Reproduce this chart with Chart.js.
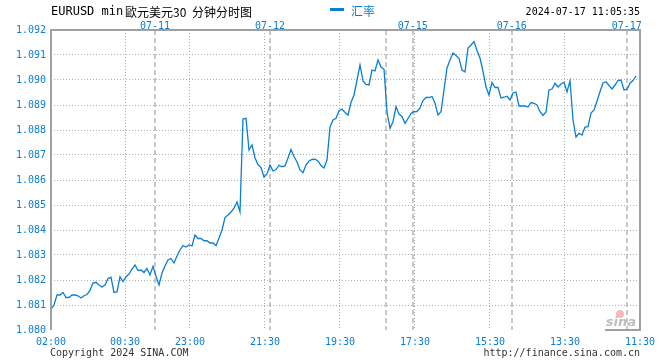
<!DOCTYPE html>
<html>
<head>
<meta charset="utf-8">
<script src="https://cdn.jsdelivr.net/npm/chart.js@4.4.1/dist/chart.umd.min.js"></script>
<style>
html,body{margin:0;padding:0;background:#fff;}
canvas{display:block;}
</style>
</head>
<body>
<canvas id="c" width="660" height="360" style="width:660px;height:360px"></canvas>
<script>
// ---- data (EURUSD 30-min) ----
const values = [
1.08083,1.0810,1.0814,1.0814,1.0815,1.0813,1.0813,1.0814,1.0814,1.08137,
1.08128,1.08137,1.08142,1.08158,1.08188,1.08191,1.0818,1.08172,1.0818,1.08206,
1.08211,1.0815,1.08152,1.08213,1.08194,1.08213,1.08224,1.08244,1.0826,1.08238,
1.0824,1.0823,1.08246,1.0822,1.08255,1.08215,1.0818,1.08228,1.08256,1.0828,
1.08286,1.08268,1.08296,1.0832,1.08338,1.08332,1.0834,1.08336,1.0838,1.08366,
1.08366,1.08357,1.08357,1.08348,1.08348,1.08337,1.08368,1.084,1.0845,1.0846,
1.08472,1.08487,1.08512,1.08473,1.08844,1.08847,1.0872,1.0874,1.08688,1.08662,
1.0865,1.08612,1.08624,1.0866,1.08636,1.08642,1.08659,1.08653,1.08656,1.08688,
1.08722,1.08694,1.08672,1.0864,1.08629,1.0866,1.08676,1.08682,1.08683,1.08676,
1.08658,1.08648,1.0868,1.08812,1.0884,1.08847,1.08876,1.08884,1.0887,1.0886,
1.0891,1.0894,1.0900,1.0906,1.08996,1.08982,1.0898,1.0904,1.09036,1.0908,
1.09052,1.09043,1.08872,1.08807,1.08833,1.08893,1.08864,1.08854,1.08827,1.08846,
1.08866,1.08873,1.08874,1.08888,1.08918,1.0893,1.0893,1.08934,1.08907,1.0886,
1.08873,1.0896,1.09048,1.0908,1.09108,1.09098,1.09087,1.0904,1.09032,1.09128,
1.0914,1.09154,1.09118,1.09088,1.09034,1.08972,1.0894,1.0899,1.0897,1.0897,
1.08928,1.08931,1.08935,1.0892,1.08948,1.08952,1.08896,1.08896,1.08896,1.08892,
1.0891,1.08907,1.089,1.08873,1.08858,1.08872,1.0896,1.08964,1.08987,1.08972,
1.08984,1.08991,1.08952,1.08997,1.0884,1.08772,1.08787,1.0878,1.08812,1.08813,
1.08868,1.0888,1.08916,1.08953,1.08988,1.08993,1.08978,1.08964,1.0898,1.08998,
1.09,1.0896,1.08963,1.08987,1.08998,1.09016
];
const timeLabels = ["02:00","00:30","23:00","21:30","19:30","17:30","15:30","13:30","11:30"];
const timeTickIdx = [0,24.67,46.33,71.33,96.33,121.33,146.33,171.33,196.33];
const dayLabels = ["07-11","07-12","","07-15","07-16","07-17"];
const dayTickIdx = [34.67,73,111.67,120.57,153.57,191.9];
const yMin = 1.080, yMax = 1.092, yStep = 0.001;
const X_MAX = 196.33;

const BLUE = '#0a7fd1';
const MONO = '"DejaVu Sans Mono", "Liberation Mono", monospace';
const CJK = '"Noto Sans CJK SC", "Noto Sans", sans-serif';

const decor = {
  id: 'decor',
  afterDraw(chart) {
    const ctx = chart.ctx, a = chart.chartArea;
    ctx.save();
    // frame
    ctx.fillStyle = '#a0a0a0';
    ctx.fillRect(a.left - 1, a.top - 1, 2, a.bottom - a.top + 1);
    ctx.fillRect(a.left - 1, a.top - 1, a.right - a.left + 2, 2);
    ctx.fillRect(a.right - 1, a.top - 1, 2, a.bottom - a.top + 1);
    ctx.fillRect(a.right - 35, a.bottom - 1, 36, 2);
    // title
    ctx.textBaseline = 'middle';
    ctx.textAlign = 'left';
    ctx.fillStyle = '#000';
    ctx.font = '12px ' + MONO;
    ctx.fillText('EURUSD min', 51, 12);
    ctx.font = '12px ' + CJK;
    ctx.fillText('歐元美元30', 125, 12);
    ctx.fillText('分钟分时图', 192, 12);
    // legend
    ctx.fillStyle = BLUE;
    ctx.fillRect(330, 8, 14, 3);
    ctx.fillText('汇率', 351, 11);
    // timestamp
    ctx.fillStyle = '#000';
    ctx.font = '10px ' + MONO;
    ctx.textAlign = 'right';
    ctx.fillText('2024-07-17 11:05:35', 640, 12);
    // footer
    ctx.fillStyle = '#333';
    ctx.textAlign = 'left';
    ctx.fillText('Copyright 2024 SINA.COM', 50, 353);
    ctx.textAlign = 'right';
    ctx.fillText('http://finance.sina.com.cn', 640, 353);
    // watermark
    ctx.fillStyle = 'rgba(235,120,120,0.5)';
    ctx.beginPath(); ctx.arc(620, 314, 4, 0, Math.PI * 2); ctx.fill();
    ctx.fillStyle = '#bdbdbd';
    ctx.font = 'italic bold 13px "DejaVu Sans", sans-serif';
    ctx.fillText('sina', 636, 323);
    ctx.restore();
  }
};

new Chart(document.getElementById('c'), {
  type: 'line',
  data: {
    datasets: [{
      data: values.map((v, i) => ({ x: i, y: v })),
      borderColor: BLUE,
      borderWidth: 1.3,
      pointRadius: 0,
      tension: 0,
      fill: false
    }]
  },
  options: {
    responsive: false,
    animation: false,
    devicePixelRatio: 1,
    layout: { padding: { left: 0, right: 20, top: 0, bottom: 0 } },
    plugins: { legend: { display: false }, tooltip: { enabled: false } },
    scales: {
      x: {
        type: 'linear', position: 'bottom', min: 0, max: X_MAX,
        afterBuildTicks: s => { s.ticks = timeTickIdx.map(v => ({ value: v })); },
        afterFit: s => { s.height = 30; s.paddingLeft = 0; s.paddingRight = 0; },
        ticks: {
          autoSkip: false, maxRotation: 0, padding: 6, color: BLUE,
          font: { family: MONO, size: 10 },
          callback: (v, i) => timeLabels[i]
        },
        grid: {
          drawTicks: false, lineWidth: 1,
          color: c => (c.index === 0 || c.index === timeLabels.length - 1) ? 'rgba(0,0,0,0)' : '#b0b0b0'
        },
        border: { display: false, dash: [1, 2] }
      },
      xTop: {
        type: 'linear', position: 'top', min: 0, max: X_MAX,
        afterBuildTicks: s => { s.ticks = dayTickIdx.map(v => ({ value: v })); },
        afterFit: s => { s.height = 30; s.paddingLeft = 0; s.paddingRight = 0; },
        ticks: {
          autoSkip: false, maxRotation: 0, padding: -2, color: BLUE,
          font: { family: MONO, size: 10 },
          callback: (v, i) => dayLabels[i]
        },
        grid: { drawTicks: false, lineWidth: 2, color: '#c8c8c8' },
        border: { display: false, dash: [5, 3] }
      },
      y: {
        type: 'linear', position: 'left', min: yMin, max: yMax,
        afterFit: s => { s.width = 51; s.paddingTop = 0; s.paddingBottom = 0; },
        ticks: {
          stepSize: yStep, padding: 5, color: BLUE,
          font: { family: MONO, size: 10 },
          callback: v => v.toFixed(3)
        },
        grid: {
          drawTicks: false, lineWidth: 1,
          color: c => (c.index === 0 || c.index === 12) ? 'rgba(0,0,0,0)' : '#b0b0b0'
        },
        border: { display: false, dash: [1, 2] }
      }
    }
  },
  plugins: [decor]
});
</script>
</body>
</html>
